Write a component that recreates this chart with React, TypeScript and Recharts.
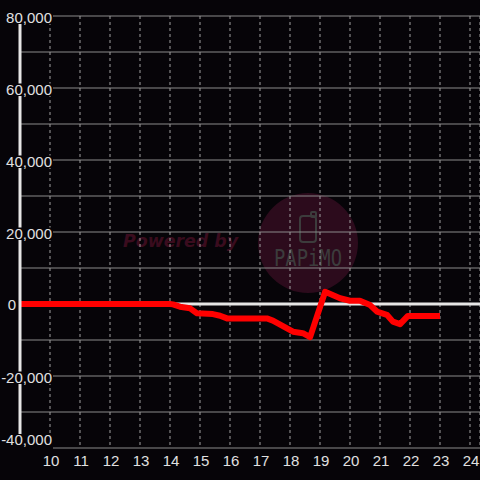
import React from 'react';
import { LineChart, Line, XAxis, YAxis, CartesianGrid, ReferenceLine } from 'recharts';

const hours = [9, 14, 14.1, 14.33, 14.67, 14.9, 15.43, 15.67, 15.9, 17.23, 17.43, 18.1, 18.43, 18.67, 19.17, 19.67, 20.0, 20.33, 20.67, 20.9, 21.23, 21.43, 21.67, 21.93, 23.0];
const values = [0, 0, -100, -750, -1200, -2600, -2800, -3250, -4000, -4000, -4600, -7700, -8100, -9200, 3400, 1600, 900, 900, -300, -2100, -3000, -4900, -5600, -3300, -3300];
const xTicks = [10, 11, 12, 13, 14, 15, 16, 17, 18, 19, 20, 21, 22, 23, 24];
const yTicks = [-40000, -30000, -20000, -10000, 0, 10000, 20000, 30000, 40000, 50000, 60000, 70000, 80000];

const data = hours.map((h, i) => ({ h, v: values[i] }));

const BG = '#060408';
const FONT = '"Liberation Sans", Arial, sans-serif';

const YTick = (props: any) => {
  const { y, payload } = props;
  const v = payload.value as number;
  if (v % 20000 !== 0) return null;
  const label = v.toLocaleString('en-US');
  if (v === 0) {
    return (
      <text x={16} y={y + 6} textAnchor="end" fill="#e0e0e0" fontSize={15} fontFamily={FONT}>{label}</text>
    );
  }
  const isBottom = v === -40000;
  const base = isBottom ? y - 3 : y + 6.5;
  const top = base - 11;
  const bottom = isBottom ? y + 2 : base + 1.5;
  return (
    <g>
      <rect x={0} y={top} width={53} height={bottom - top} fill={BG} />
      <text x={52} y={base} textAnchor="end" fill="#e0e0e0" fontSize={15} fontFamily={FONT}>{label}</text>
    </g>
  );
};

const XTick = (props: any) => {
  const { x, payload } = props;
  return (
    <text x={x + 1} y={466} textAnchor="middle" fill="#e0e0e0" fontSize={15} fontFamily={FONT}>{payload.value}</text>
  );
};

export default function App() {
  return (
    <div style={{ position: 'fixed', left: 0, top: 0, width: 480, height: 480, background: BG }}>
      <svg width={480} height={480} style={{ position: 'absolute', left: 0, top: 0 }}>
        <circle cx={308} cy={243} r={50} fill="#2c0b1c" />
        <text x={123} y={247} fill="#3a0c1e" fontSize={17} fontWeight="bold" fontStyle="italic" fontFamily='"DejaVu Sans", sans-serif' textLength={115} lengthAdjust="spacingAndGlyphs">Powered by</text>
        <rect x={300} y={216} width={16} height={26} rx={3} fill="none" stroke="#3c3c3c" strokeWidth={2} />
        <rect x={311} y={212} width={5} height={5} rx={1} fill="none" stroke="#3c3c3c" strokeWidth={2} />
        <text x={274} y={266} fill="#3c3c3c" fontSize={23} fontFamily='"DejaVu Sans Mono", monospace' textLength={68} lengthAdjust="spacingAndGlyphs">PAPiMO</text>
      </svg>
      <div style={{ position: 'absolute', left: 0, top: 0 }}>
        <LineChart width={480} height={480} data={data} margin={{ top: 16, right: 0, bottom: 0, left: 0 }}>
          <CartesianGrid vertical={false} stroke="#8a8a8a" strokeWidth={1} />
          <CartesianGrid horizontal={false} stroke="#a0a0a0" strokeWidth={1} strokeDasharray="3 3" />
          <XAxis dataKey="h" type="number" domain={[9, 24 + 1 / 3]} ticks={xTicks} allowDataOverflow height={32} axisLine={false} tickLine={false} tick={<XTick />} interval={0} />
          <YAxis type="number" domain={[-40000, 80000]} ticks={yTicks} width={20} axisLine={{ stroke: '#e6e6e6', strokeWidth: 3 }} tickLine={false} tick={<YTick />} interval={0} />
          <ReferenceLine y={0} stroke="#e6e6e6" strokeWidth={3} />
          <Line dataKey="v" type="linear" stroke="#ff0000" strokeWidth={6} dot={false} isAnimationActive={false} strokeLinejoin="round" />
        </LineChart>
      </div>
    </div>
  );
}
